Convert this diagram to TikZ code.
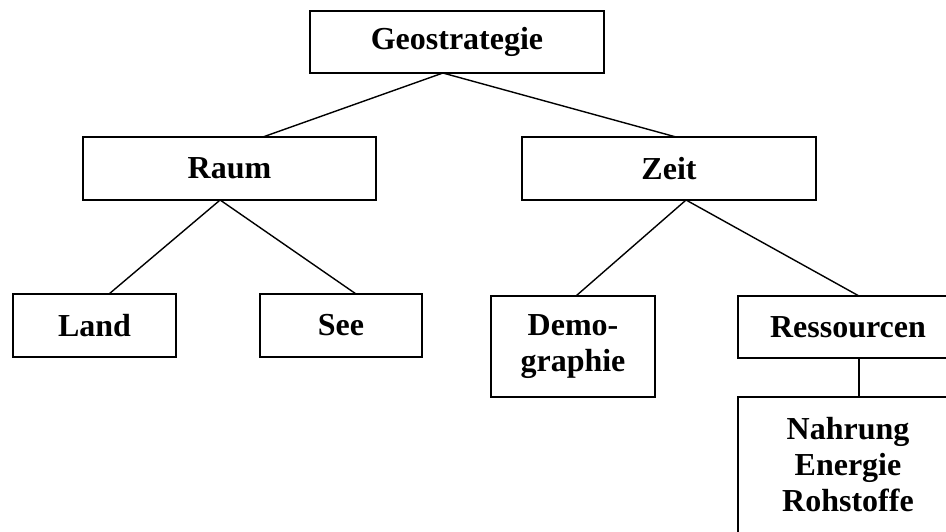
\documentclass[tikz,border=0pt]{standalone}
\usepackage{fontspec}
\setmainfont{Liberation Serif}
\usetikzlibrary{calc}
\begin{document}
\begin{tikzpicture}[x=1pt,y=-1pt,
  txt/.style={inner sep=0pt, outer sep=0pt, align=center, font=\bfseries\fontsize{32}{36}\selectfont},
  box/.style={txt, draw, line width=1.6pt},
  link/.style={line width=1.4pt}]
\useasboundingbox (0,0) rectangle (946,531);
\clip (0,0) rectangle (946,531);
% boxes
\node[box, minimum width=294pt, minimum height=62pt] (geo) at (457,42) {Geostrategie};
\node[box, minimum width=293pt, minimum height=63pt] (raum) at (229.5,168.5) {Raum};
\node[box, minimum width=294pt, minimum height=63pt] (zeit) at (669,168.5) {Zeit};
\node[box, minimum width=163pt, minimum height=63pt] (land) at (94.5,325.5) {Land};
\node[box, minimum width=162pt, minimum height=63pt] (see) at (341,325.5) {See};
\node[box, minimum width=164pt, minimum height=101pt] (demo) at (573,346.5) {Demo-\\graphie};
\node[box, minimum width=220pt, minimum height=62pt] (res) at (848,327) {Ressourcen};
\node[draw, line width=1.6pt, inner sep=0pt, outer sep=0pt, minimum width=220pt, minimum height=170pt, anchor=north west] (nahbox) at (738,397) {};
\node[txt, anchor=north] (nah) at (848,417) {Nahrung\\Energie\\Rohstoffe};
% connectors
\draw[link] ($(geo.south west)!0.452!(geo.south east)$) -- ($(raum.north west)!0.614!(raum.north east)$);
\draw[link] ($(geo.south west)!0.452!(geo.south east)$) -- ($(zeit.north west)!0.524!(zeit.north east)$);
\draw[link] ($(raum.south west)!0.468!(raum.south east)$) -- ($(land.north west)!0.589!(land.north east)$);
\draw[link] ($(raum.south west)!0.468!(raum.south east)$) -- ($(see.north west)!0.593!(see.north east)$);
\draw[link] ($(zeit.south west)!0.558!(zeit.south east)$) -- ($(demo.north west)!0.518!(demo.north east)$);
\draw[link] ($(zeit.south west)!0.558!(zeit.south east)$) -- ($(res.north west)!0.55!(res.north east)$);
\draw[link] ($(res.south west)!0.55!(res.south east)$) -- ($(nahbox.north west)!0.55!(nahbox.north east)$);
\end{tikzpicture}
\end{document}
